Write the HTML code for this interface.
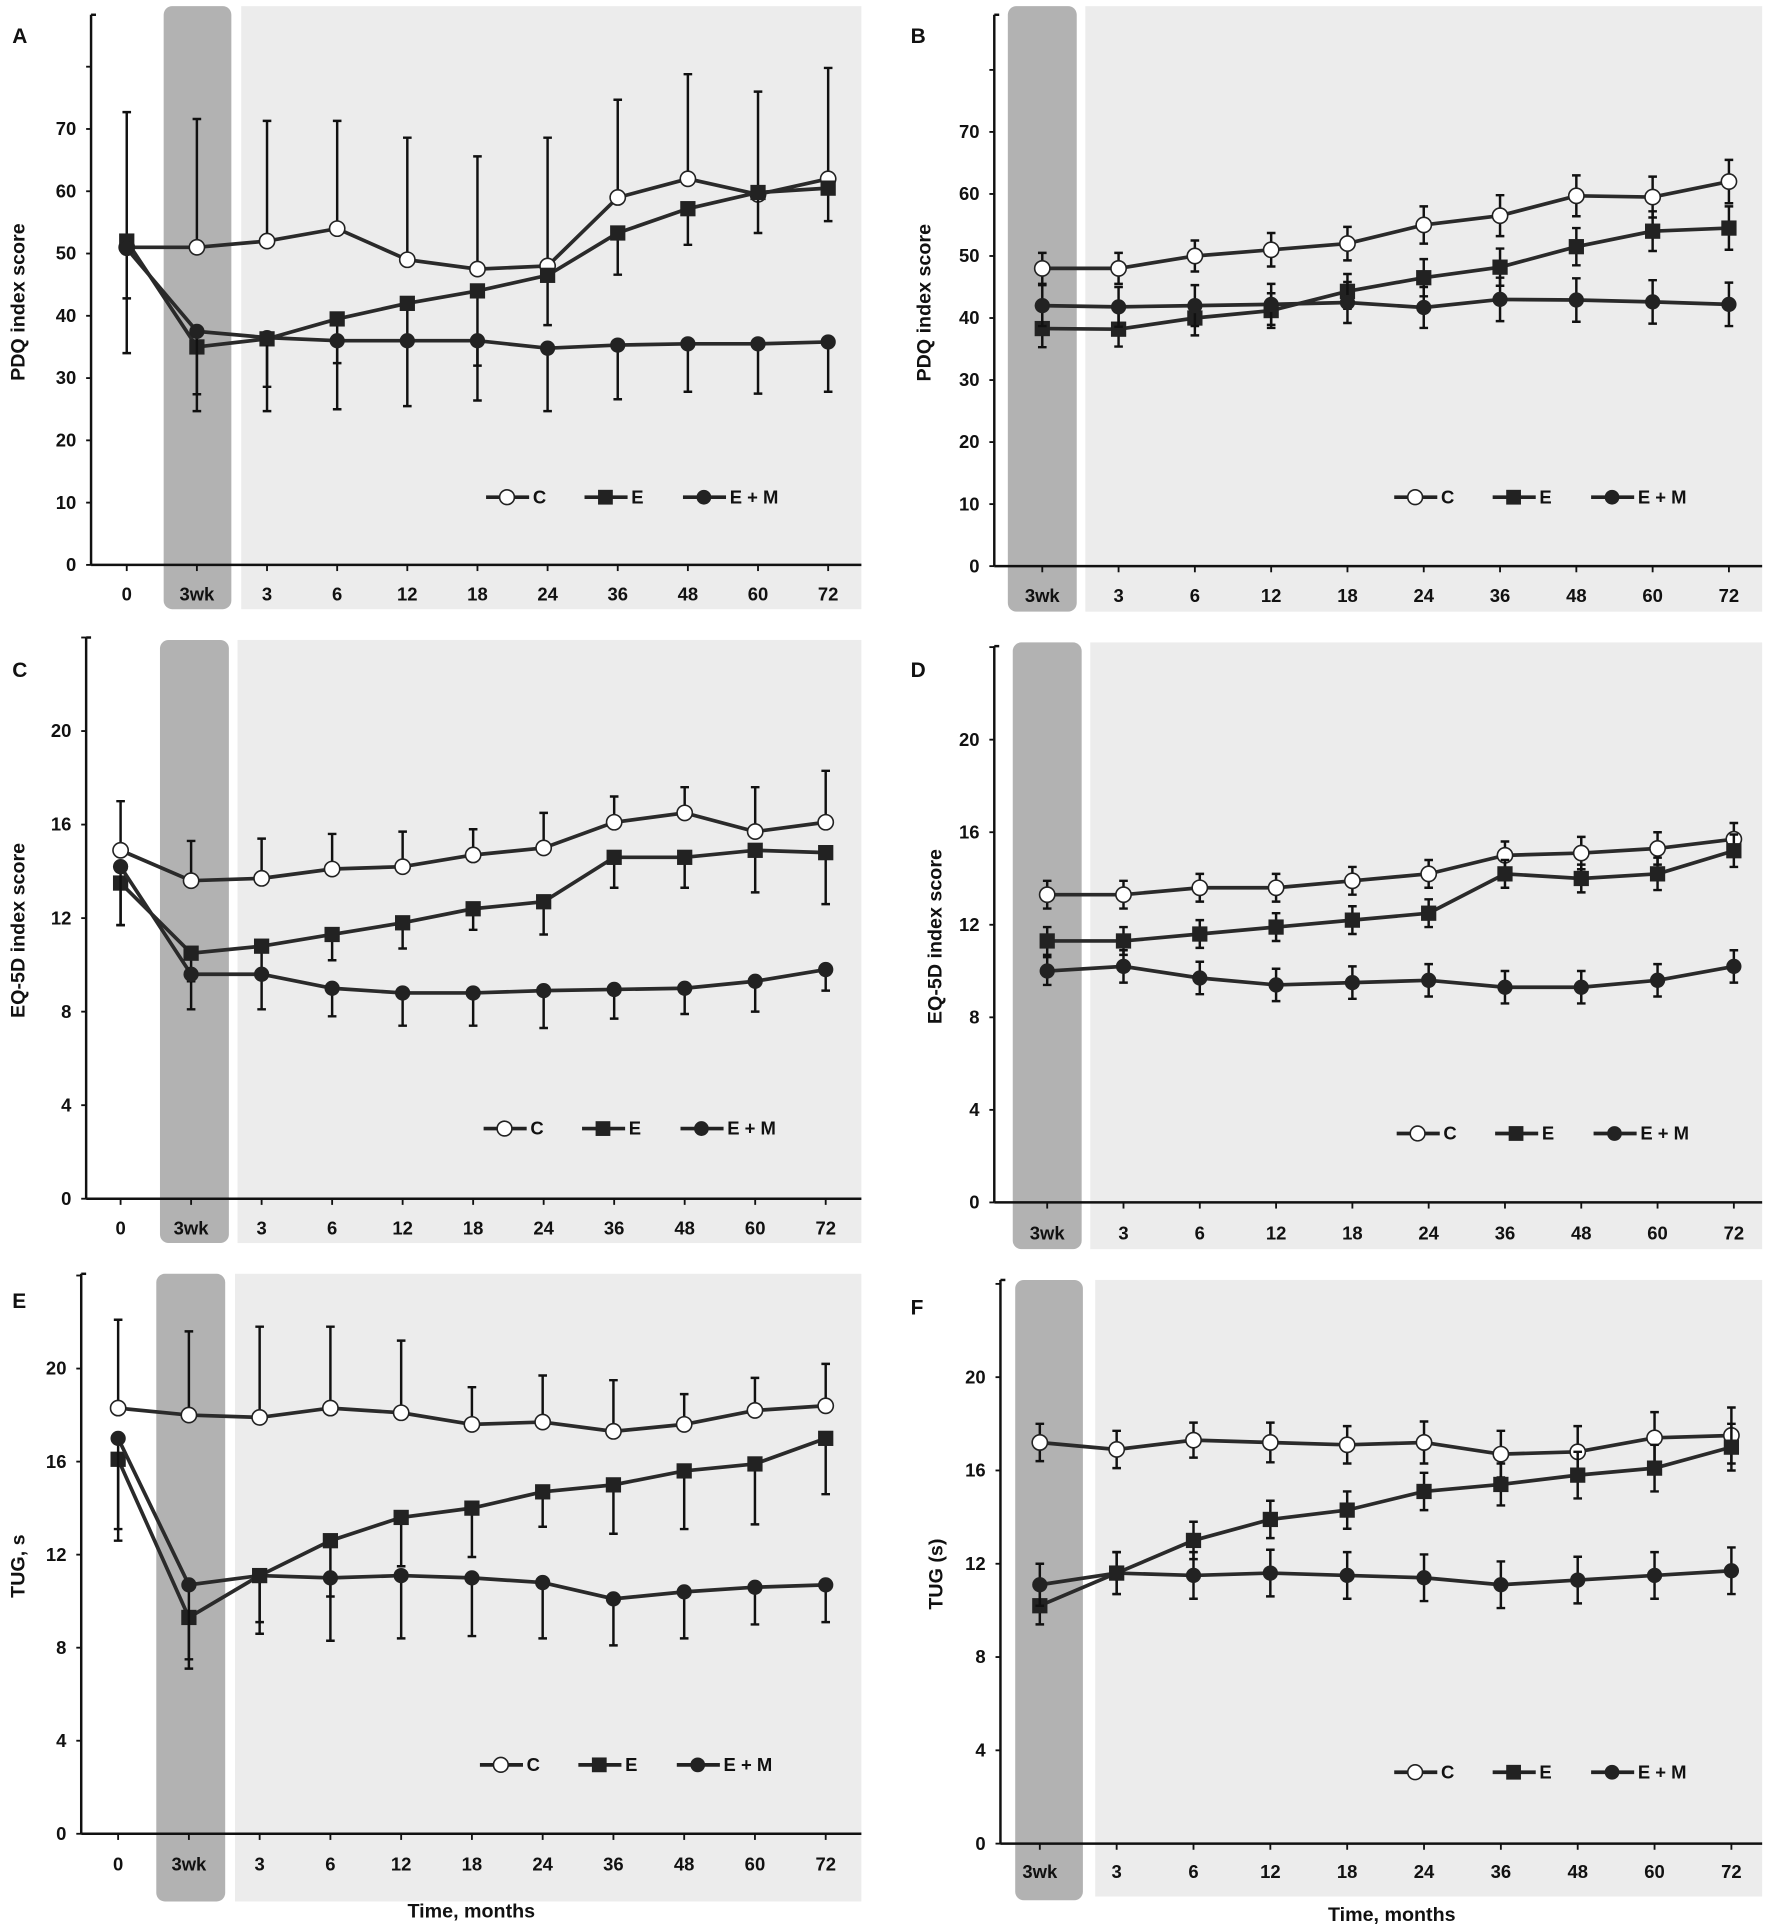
<!DOCTYPE html>
<html><head><meta charset="utf-8"><style>
html,body{margin:0;padding:0;background:#fff}
svg{display:block}
text{font-family:"Liberation Sans",sans-serif;font-weight:bold;fill:#111}
</style></head><body>
<svg id="fig" xmlns="http://www.w3.org/2000/svg" width="1772" height="1931" viewBox="0 0 1440 1569" preserveAspectRatio="none"></svg>
<script>
// ---------- DATA ----------
const catsFull = ["0","3wk","3","6","12","18","24","36","48","60","72"];
const catsShort = ["3wk","3","6","12","18","24","36","48","60","72"];
const seriesNames = ["C","E","E + M"];

const aC = [51,51,52,54,49,47.5,48,59,62,59.5,62];
const aCerr = [21.7,20.6,19.3,17.3,19.6,18.1,20.6,15.7,16.8,16.5,17.8];
const aE = [52,35,36.3,39.5,42,44,46.5,53.3,57.2,59.8,60.5];
const aEerr = [9.2,7.6,7.7,7.1,6,12,8,6.7,5.8,6.5,5.3];
const aM = [50.8,37.5,36.5,36,36,36,34.8,35.3,35.5,35.5,35.8];
const aMerr = [16.8,12.8,11.8,11,10.5,9.6,10.1,8.7,7.7,8,8];

const bC = [48,48,50,51,52,55,56.5,59.7,59.5,62];
const bCerr = [2.5,2.5,2.5,2.7,2.7,3,3.3,3.3,3.3,3.5];
const bE = [38.3,38.2,40,41.2,44.3,46.5,48.2,51.5,54,54.5];
const bEerr = [3,2.8,2.8,2.8,2.8,3,3,3,3.2,3.5];
const bM = [42,41.8,42,42.2,42.5,41.7,43,42.9,42.6,42.2];
const bMerr = [3.3,3.2,3.3,3.3,3.3,3.3,3.5,3.5,3.5,3.5];

const cC = [14.9,13.6,13.7,14.1,14.2,14.7,15,16.1,16.5,15.7,16.1];
const cCerr = [2.1,1.7,1.7,1.5,1.5,1.1,1.5,1.1,1.1,1.9,2.2];
const cE = [13.5,10.5,10.8,11.3,11.8,12.4,12.7,14.6,14.6,14.9,14.8];
const cEerr = [1.8,1.2,1.2,1.1,1.1,0.9,1.4,1.3,1.3,1.8,2.2];
const cM = [14.2,9.6,9.6,9.0,8.8,8.8,8.9,8.95,9.0,9.3,9.8];
const cMerr = [2.5,1.5,1.5,1.2,1.4,1.4,1.6,1.25,1.1,1.3,0.9];

const dC = [13.3,13.3,13.6,13.6,13.9,14.2,15,15.1,15.3,15.7];
const dCerr = [0.6,0.6,0.6,0.6,0.6,0.6,0.6,0.7,0.7,0.7];
const dE = [11.3,11.3,11.6,11.9,12.2,12.5,14.2,14,14.2,15.2];
const dEerr = [0.6,0.6,0.6,0.6,0.6,0.6,0.6,0.6,0.7,0.7];
const dM = [10,10.2,9.7,9.4,9.5,9.6,9.3,9.3,9.6,10.2];
const dMerr = [0.6,0.7,0.7,0.7,0.7,0.7,0.7,0.7,0.7,0.7];

const eC = [18.3,18,17.9,18.3,18.1,17.6,17.7,17.3,17.6,18.2,18.4];
const eCerr = [3.8,3.6,3.9,3.5,3.1,1.6,2,2.2,1.3,1.4,1.8];
const eE = [16.1,9.3,11.1,12.6,13.6,14,14.7,15,15.6,15.9,17];
const eEerr = [3.5,1.8,2,2.4,2.1,2.1,1.5,2.1,2.5,2.6,2.4];
const eM = [17,10.7,11.1,11,11.1,11,10.8,10.1,10.4,10.6,10.7];
const eMerr = [3.9,3.6,2.5,2.7,2.7,2.5,2.4,2,2,1.6,1.6];

const fC = [17.2,16.9,17.3,17.2,17.1,17.2,16.7,16.8,17.4,17.5];
const fCerr = [0.8,0.8,0.75,0.85,0.8,0.9,1,1.1,1.1,1.2];
const fE = [10.2,11.6,13,13.9,14.3,15.1,15.4,15.8,16.1,17];
const fEerr = [0.8,0.9,0.8,0.8,0.8,0.8,0.9,1,1,1];
const fM = [11.1,11.6,11.5,11.6,11.5,11.4,11.1,11.3,11.5,11.7];
const fMerr = [0.9,0.9,1,1,1,1,1,1,1,1];

const ticksPDQ = [0,10,20,30,40,50,60,70];
const ticksSmall = [0,4,8,12,16,20];

// ---------- LAYOUT ----------
const panels = [
 {id:"a",letter:"A",lx:10,ly:35,cats:catsFull,ser:[[aC,aCerr,"up"],[aE,aEerr,"down"],[aM,aMerr,"down"]],
  ax:74,x0:103,x1:673,axEnd:700,y0:459,yPer:5.06,top:12,ticks:ticksPDQ,extra:[80],title:"PDQ index score",tx:20,
  dark:[133,5,55,490],light:[196,5,504,490],labY:488,leg:[395,404]},
 {id:"b",letter:"B",lx:740,ly:35,cats:catsShort,ser:[[bC,bCerr,"both"],[bE,bEerr,"both"],[bM,bMerr,"both"]],
  ax:808,x0:847,x1:1405,axEnd:1432,y0:460,yPer:5.04,top:12,ticks:ticksPDQ,extra:[80],title:"PDQ index score",tx:756,
  dark:[819,5,56,492],light:[882,5,550,492],labY:489,leg:[1133,404]},
 {id:"c",letter:"C",lx:10,ly:550,cats:catsFull,ser:[[cC,cCerr,"up"],[cE,cEerr,"down"],[cM,cMerr,"down"]],
  ax:70,x0:98,x1:671,axEnd:700,y0:974,yPer:19,top:518,ticks:ticksSmall,extra:[24],title:"EQ-5D index score",tx:20,
  dark:[130,520,56,490],light:[193,520,507,490],labY:1003,leg:[393,917]},
 {id:"d",letter:"D",lx:740,ly:550,cats:catsShort,ser:[[dC,dCerr,"both"],[dE,dEerr,"both"],[dM,dMerr,"both"]],
  ax:808,x0:851,x1:1409,axEnd:1432,y0:977,yPer:18.8,top:525,ticks:ticksSmall,extra:[24],title:"EQ-5D index score",tx:765,
  dark:[823,522,56,493],light:[886,522,546,493],labY:1007,leg:[1135,921]},
 {id:"e",letter:"E",lx:10,ly:1063,cats:catsFull,ser:[[eC,eCerr,"up"],[eE,eEerr,"down"],[eM,eMerr,"down"]],
  ax:66,x0:96,x1:671,axEnd:700,y0:1490,yPer:18.9,top:1035,ticks:ticksSmall,extra:[24],title:"TUG, s",tx:20,
  dark:[127,1035,56,510],light:[191,1035,509,510],labY:1520,leg:[390,1434],xt:[383,1558]},
 {id:"f",letter:"F",lx:740,ly:1068,cats:catsShort,ser:[[fC,fCerr,"both"],[fE,fEerr,"both"],[fM,fMerr,"both"]],
  ax:813,x0:845,x1:1407,axEnd:1432,y0:1498,yPer:18.95,top:1040,ticks:ticksSmall,extra:[24],title:"TUG (s)",tx:766,
  dark:[825,1040,55,504],light:[890,1040,542,501],labY:1526,leg:[1133,1440],xt:[1131,1561]}
];

const NS="http://www.w3.org/2000/svg";
const svg=document.getElementById("fig");
function mk(tag,attrs,parent){const e=document.createElementNS(NS,tag);for(const k in attrs)e.setAttribute(k,attrs[k]);(parent||svg).appendChild(e);return e;}

function marker(g,kind,x,y,r){
  if(kind===0){return mk("circle",{cx:x,cy:y,r:r,fill:"#fff",stroke:"#222","stroke-width":1.3},g);}
  if(kind===1){return mk("rect",{x:x-r,y:y-r,width:2*r,height:2*r,fill:"#222"},g);}
  return mk("circle",{cx:x,cy:y,r:r,fill:"#222"},g);
}

panels.forEach(p=>{
  const g=mk("g",{});
  
  
  const n=p.cats.length;
  const xs=i=>p.x0+(p.x1-p.x0)*i/(n-1);
  const ys=v=>p.y0-v*p.yPer;
  const lb=mk("rect",{x:p.light[0],y:p.light[1],width:p.light[2],height:p.light[3],fill:"#ececec"},g);
  
  
  const db=mk("rect",{x:p.dark[0],y:p.dark[1],width:p.dark[2],height:p.dark[3],rx:7,fill:"#b2b2b2"},g);
  
  
  const pl=mk("text",{x:p.lx,y:p.ly,"font-size":17},g);pl.textContent=p.letter;
  
  
  const ya=mk("line",{x1:p.ax,y1:p.top,x2:p.ax,y2:p.y0,stroke:"#111","stroke-width":2},g);
  
  
  const xa=mk("line",{x1:p.ax,y1:p.y0,x2:p.axEnd,y2:p.y0,stroke:"#111","stroke-width":2},g);
  
  
  mk("line",{x1:p.ax,y1:p.top,x2:p.ax+4,y2:p.top,stroke:"#111","stroke-width":2},g);
  p.ticks.concat(p.extra).forEach((t,k)=>{
    mk("line",{x1:p.ax-4,y1:ys(t),x2:p.ax,y2:ys(t),stroke:"#111","stroke-width":1.5},g);
    if(k<p.ticks.length){const tl=mk("text",{x:p.ax-12,y:ys(t)+5,"font-size":15,"text-anchor":"end"},g);tl.textContent=t;
      
      }
  });
  p.cats.forEach((c,i)=>{
    mk("line",{x1:xs(i),y1:p.y0,x2:xs(i),y2:p.y0+5,stroke:"#111","stroke-width":1.5},g);
    const tl=mk("text",{x:xs(i),y:p.labY,"font-size":15,"text-anchor":"middle"},g);tl.textContent=c;
    
    
  });
  const midY=(p.top+p.y0)/2+10;
  const yt=mk("text",{x:p.tx,y:midY,"font-size":16,"text-anchor":"middle",transform:`rotate(-90 ${p.tx} ${midY})`},g);
  yt.textContent=p.title;
  
  
  if(p.xt){const xt=mk("text",{x:p.xt[0],y:p.xt[1],"font-size":16,"text-anchor":"middle"},g);xt.textContent="Time, months";
    
    }
  p.ser.forEach((s,si)=>{
    const [vals,err,dir]=s;
    const sg=mk("g",{},g);
    
    
    vals.forEach((v,i)=>{
      const hi=dir==="down"?v:v+err[i], lo=dir==="up"?v:v-err[i];
      const eb=mk("path",{d:`M${xs(i)},${ys(hi)}V${ys(lo)}`+(dir!=="down"?`M${xs(i)-3.5},${ys(hi)}h7`:"")+(dir!=="up"?`M${xs(i)-3.5},${ys(lo)}h7`:""),stroke:"#111","stroke-width":2,fill:"none"},sg);
      
      
    });
    const ln=mk("polyline",{points:vals.map((v,i)=>xs(i)+","+ys(v)).join(" "),fill:"none",stroke:"#2a2a2a","stroke-width":3},sg);
    
    
    vals.forEach((v,i)=>{
      const m=marker(sg,si,xs(i),ys(v),6.2);
      
      
    });
  });
  const lg=mk("g",{},g);
  
  
  const offs=[0,80,160], txt=["C","E","E + M"];
  offs.forEach((o,k)=>{
    const lx=p.leg[0]+o, ly=p.leg[1];
    mk("line",{x1:lx,y1:ly,x2:lx+35,y2:ly,stroke:"#222","stroke-width":3},lg);
    marker(lg,k,lx+17,ly,6);
    const t=mk("text",{x:lx+38,y:ly+5,"font-size":15},lg);t.textContent=txt[k];
    
    
  });
});
</script>
</body></html>
